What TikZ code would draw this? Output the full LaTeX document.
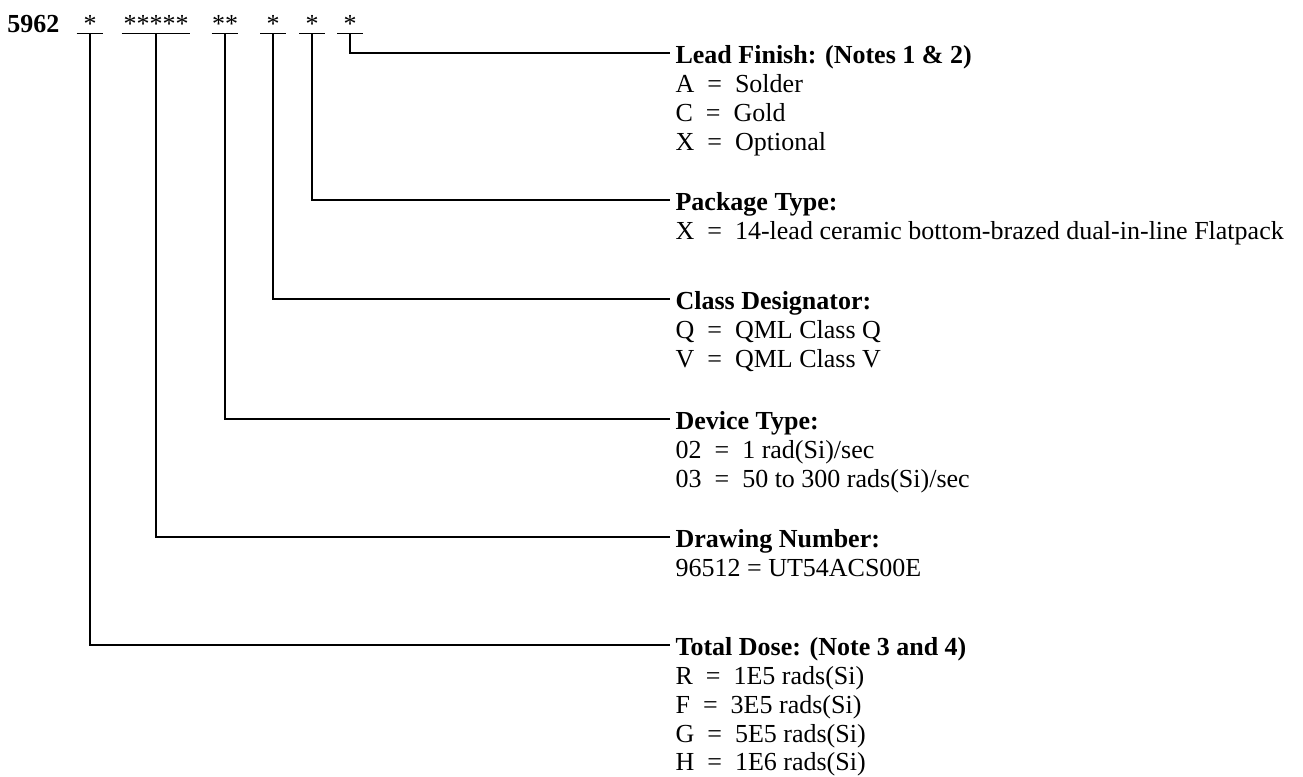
\documentclass[tikz,border=0pt]{standalone}
\usepackage{fontspec}
\setmainfont{Liberation Serif}
\usetikzlibrary{positioning}

\begin{document}
\begin{tikzpicture}[
  x=0.75pt, y=-0.75pt,
  txt/.style={font=\fontsize{19.5}{21.5}\selectfont},
  stars/.style={txt, anchor=base, inner xsep=0pt, inner ysep=1pt},
  hdr/.style={font=\fontsize{19.5}{21.5}\selectfont\bfseries, anchor=west,
              inner xsep=4pt, inner ysep=0pt, text height=15pt, text depth=0pt},
  body/.style={txt, align=left, inner xsep=4pt, inner ysep=0pt},
  leader/.style={line width=1.3pt}
]
\useasboundingbox (0,0) rectangle (1303,776);

%% ---- Part number fields ----
\node[hdr, anchor=base west, inner xsep=0pt, text height=, text depth=] (pn) at (7,32) {5962};
\node[stars, minimum width=19.5pt]  (sDose)  at (90,32)  {*};
\node[stars, minimum width=51pt]    (sDwg)   at (156,32) {*****};
\node[stars, minimum width=18.75pt] (sDev)   at (225,32) {**};
\node[stars, minimum width=18.75pt] (sClass) at (273,32) {*};
\node[stars, minimum width=18.75pt] (sPkg)   at (312,32) {*};
\node[stars, minimum width=18.75pt] (sFin)   at (350,32) {*};

%% ---- Field descriptions ----
\node[hdr] (finHd) at (670,53) {Lead Finish: (Notes 1 \& 2)};
\node[body, below=7pt of finHd.south west, anchor=north west] (finTx)
  {\strut A\enskip=\enskip Solder\\ C\enskip=\enskip Gold\\ X\enskip=\enskip Optional};

\node[hdr] (pkgHd) at (670,200) {Package Type:};
\node[body, below=7pt of pkgHd.south west, anchor=north west] (pkgTx)
  {\strut X\enskip=\enskip 14-lead ceramic bottom-brazed dual-in-line Flatpack};

\node[hdr] (classHd) at (670,299) {Class Designator:};
\node[body, below=7pt of classHd.south west, anchor=north west] (classTx)
  {\strut Q\enskip=\enskip QML Class Q\\ V\enskip=\enskip QML Class V};

\node[hdr] (devHd) at (670,419) {Device Type:};
\node[body, below=7pt of devHd.south west, anchor=north west] (devTx)
  {\strut 02\enskip=\enskip 1 rad(Si)/sec\\ 03\enskip=\enskip 50 to 300 rads(Si)/sec};

\node[hdr] (dwgHd) at (670,537) {Drawing Number:};
\node[body, below=7pt of dwgHd.south west, anchor=north west] (dwgTx)
  {\strut 96512 = UT54ACS00E};

\node[hdr] (doseHd) at (670,645) {Total Dose: (Note 3 and 4)};
\node[body, below=7pt of doseHd.south west, anchor=north west] (doseTx)
  {\strut R\enskip=\enskip 1E5 rads(Si)\\ F\enskip=\enskip 3E5 rads(Si)\\
   G\enskip=\enskip 5E5 rads(Si)\\ H\enskip=\enskip 1E6 rads(Si)};

%% ---- Underlines and leaders ----
\foreach \f in {sDose,sDwg,sDev,sClass,sPkg,sFin}
  \draw[leader] (\f.south west) -- (\f.south east);
\draw[leader] (sFin.south)   |- (finHd.west);
\draw[leader] (sPkg.south)   |- (pkgHd.west);
\draw[leader] (sClass.south) |- (classHd.west);
\draw[leader] (sDev.south)   |- (devHd.west);
\draw[leader] (sDwg.south)   |- (dwgHd.west);
\draw[leader] (sDose.south)  |- (doseHd.west);
\end{tikzpicture}
\end{document}
